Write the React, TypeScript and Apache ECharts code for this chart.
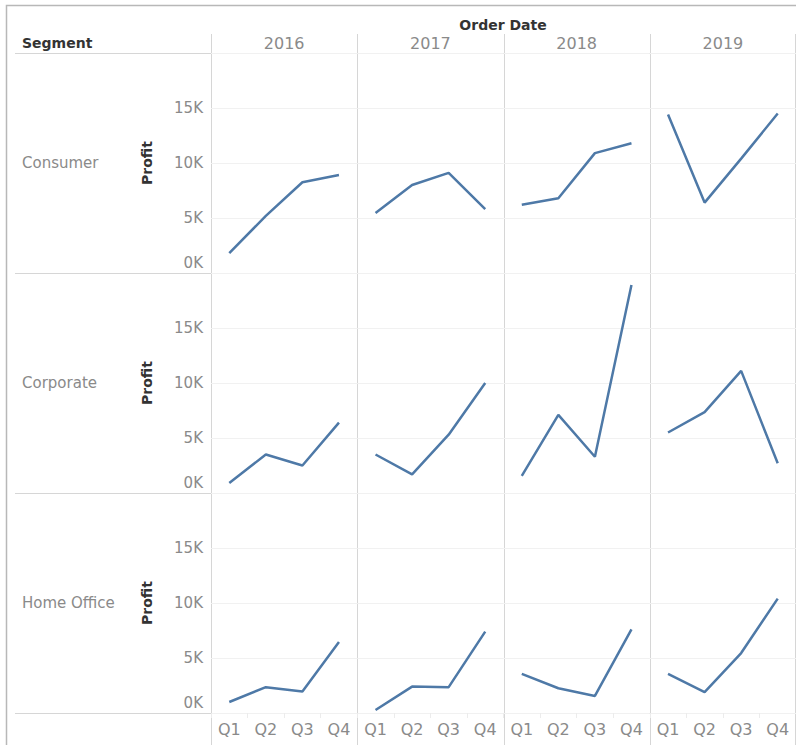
import React, { useEffect, useRef } from "react";
import * as echarts from "echarts";

const quarters = ["Q1", "Q2", "Q3", "Q4"];
const years = ["2016", "2017", "2018", "2019"];
const segments = ["Consumer", "Corporate", "Home Office"];
const yTicks = [0, 5000, 10000, 15000];

// Profit by year (2016..2019), each with Q1..Q4
const consumerProfit = [
  1800, 5200, 8250, 8900,
  5450, 8000, 9100, 5800,
  6200, 6800, 10900, 11800,
  14400, 6400, 10400, 14500,
];
const corporateProfit = [
  900, 3500, 2500, 6400,
  3500, 1700, 5300, 10000,
  1550, 7100, 3300, 18900,
  5500, 7350, 11100, 2700,
];
const homeOfficeProfit = [
  1000, 2350, 1950, 6450,
  270, 2400, 2350, 7400,
  3550, 2250, 1550, 7600,
  3550, 1900, 5450, 10400,
];
const segmentProfit = [consumerProfit, corporateProfit, homeOfficeProfit];

const FONT = "DejaVu Sans";
const GRAY = "#8a8a8a";
const DARK = "#333333";
const LINE = "#d6d6d6";
const BLUE = "#4e79a7";

export default function App() {
  const ref = useRef<HTMLDivElement>(null);

  useEffect(() => {
    if (!ref.current) return;
    const chart = echarts.init(ref.current, null, { renderer: "svg" });

    const colLeft = 211;
    const colW = 146.25;
    const rowTop = 53;
    const rowH = 220;

    const grids: any[] = [];
    const xAxes: any[] = [];
    const yAxes: any[] = [];
    const series: any[] = [];

    segments.forEach((seg, r) => {
      years.forEach((yr, c) => {
        const idx = r * 4 + c;
        grids.push({
          left: colLeft + c * colW,
          top: rowTop + r * rowH,
          width: colW,
          height: rowH,
          containLabel: false,
        });
        xAxes.push({
          type: "category",
          gridIndex: idx,
          data: quarters,
          boundaryGap: true,
          axisLine: { show: false },
          axisTick: {
            show: r === 2,
            length: 5,
            lineStyle: { color: "#ececec" },
          },
          axisLabel: {
            show: r === 2,
            fontFamily: FONT,
            fontSize: 16,
            color: GRAY,
            margin: 8,
          },
          splitLine: { show: false },
        });
        yAxes.push({
          type: "value",
          gridIndex: idx,
          min: 0,
          max: 20000,
          interval: 5000,
          name: c === 0 ? "Profit" : "",
          nameLocation: "middle",
          nameRotate: 90,
          nameGap: 57,
          nameTextStyle: {
            fontFamily: FONT,
            fontSize: 14,
            fontWeight: "bold",
            color: DARK,
          },
          axisLine: { show: false },
          axisTick: { show: false },
          axisLabel: {
            show: c === 0,
            fontFamily: FONT,
            fontSize: 15,
            color: GRAY,
            margin: 8,
            formatter: (v: number) => {
              if (!yTicks.includes(v)) return "";
              if (v === 0) return "{z|0K}";
              return v / 1000 + "K";
            },
            rich: {
              z: {
                fontFamily: FONT,
                fontSize: 15,
                color: GRAY,
                padding: [0, 0, 20, 0],
              },
            },
          },
          splitLine: {
            show: true,
            lineStyle: { color: "#f1f1f1", width: 1 },
          },
        });
        series.push({
          type: "line",
          name: seg + " " + yr,
          xAxisIndex: idx,
          yAxisIndex: idx,
          data: segmentProfit[r].slice(c * 4, c * 4 + 4),
          showSymbol: false,
          lineStyle: { color: BLUE, width: 2.5 },
          itemStyle: { color: BLUE },
        });
      });
    });

    const graphics: any[] = [];
    // outer border
    graphics.push({
      type: "rect",
      shape: { x: 6.5, y: 5.5, width: 820, height: 800 },
      style: { fill: "none", stroke: "#b8b8b8", lineWidth: 1.5 },
      silent: true,
    });
    // horizontal dividers
    for (let i = 0; i <= 3; i++) {
      const y = rowTop + i * rowH + 0.5;
      graphics.push({
        type: "line",
        shape: { x1: 15, y1: y, x2: 796, y2: y },
        style: { stroke: LINE, lineWidth: 1 },
        silent: true,
      });
    }
    // vertical dividers
    for (let i = 0; i <= 4; i++) {
      const x = Math.round(colLeft + i * colW) - (i === 4 ? 1 : 0) + 0.5;
      graphics.push({
        type: "line",
        shape: { x1: x, y1: 34, x2: x, y2: 745 },
        style: { stroke: LINE, lineWidth: 1 },
        silent: true,
      });
    }
    // headers
    graphics.push({
      type: "text",
      x: 503,
      y: 25,
      style: {
        text: "Order Date",
        fontFamily: FONT,
        fontSize: 14,
        fontWeight: "bold",
        fill: DARK,
        align: "center",
        verticalAlign: "middle",
      },
    });
    graphics.push({
      type: "text",
      x: 22,
      y: 43,
      style: {
        text: "Segment",
        fontFamily: FONT,
        fontSize: 14,
        fontWeight: "bold",
        fill: DARK,
        align: "left",
        verticalAlign: "middle",
      },
    });
    years.forEach((yr, c) => {
      graphics.push({
        type: "text",
        x: colLeft + c * colW + colW / 2,
        y: 43,
        style: {
          text: yr,
          fontFamily: FONT,
          fontSize: 16,
          fill: GRAY,
          align: "center",
          verticalAlign: "middle",
        },
      });
    });
    segments.forEach((seg, r) => {
      graphics.push({
        type: "text",
        x: 22,
        y: rowTop + r * rowH + rowH / 2,
        style: {
          text: seg,
          fontFamily: FONT,
          fontSize: 15,
          fill: GRAY,
          align: "left",
          verticalAlign: "middle",
        },
      });
    });

    chart.setOption({
      animation: false,
      backgroundColor: "#ffffff",
      grid: grids,
      xAxis: xAxes,
      yAxis: yAxes,
      series,
      graphic: graphics,
    });

    return () => chart.dispose();
  }, []);

  return (
    <div
      ref={ref}
      style={{ position: "absolute", left: 0, top: 0, width: 796, height: 745 }}
    />
  );
}
